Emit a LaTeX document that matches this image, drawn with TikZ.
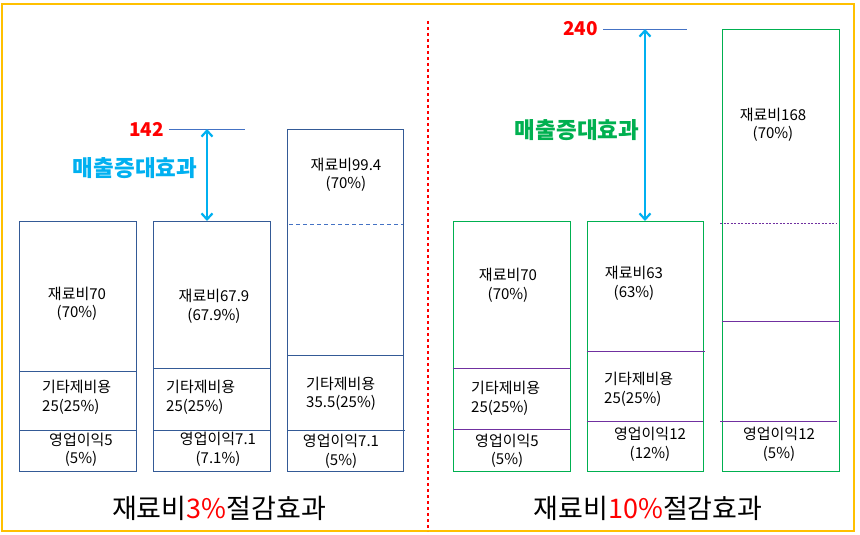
\documentclass[tikz,border=0pt]{standalone}
\usepackage{fontspec}
\setmainfont{Noto Sans CJK KR}
\usetikzlibrary{arrows.meta}
\definecolor{ybord}{HTML}{FFC000}
\definecolor{bblue}{RGB}{52,90,150}
\definecolor{lblue}{RGB}{68,114,196}
\definecolor{cyanA}{HTML}{00B0F0}
\definecolor{greenA}{HTML}{00B050}
\definecolor{purpA}{HTML}{7030A0}
\tikzset{
  boxL/.style={draw=bblue, line width=0.8pt, inner sep=0pt, anchor=north west},
  boxR/.style={draw=greenA, line width=0.8pt, inner sep=0pt, anchor=north west},
  divL/.style={draw=bblue, line width=0.8pt},
  divR/.style={draw=purpA, line width=0.8pt},
  lbl/.style={inner sep=0pt, font=\fontsize{15}{18.5}\selectfont, text=black},
  lblc/.style={lbl, align=center},
  lbll/.style={lbl, align=left, anchor=west},
  arr/.style={draw=cyanA, line width=2.2pt, {Straight Barb[length=6pt,width=11pt]}-{Straight Barb[length=6pt,width=11pt]}},
  numtxt/.style={inner sep=0pt, text=red, font=\fontsize{19}{22}\selectfont\bfseries, anchor=east},
  efftxt/.style={inner sep=0pt, font=\fontsize{22.5}{26}\selectfont\bfseries},
  ttl/.style={inner sep=0pt, font=\fontsize{27}{32}\selectfont},
  refline/.style={draw=lblue, line width=0.8pt}
}
\begin{document}
\begin{tikzpicture}[x=1pt,y=-1pt]
\useasboundingbox (0,0) rectangle (860,535);
% outer frame
\draw[ybord, line width=1.6pt] (2,4) rectangle (854,531);
% separator
\coordinate (sepT) at (428,21);
\coordinate (sepB) at (428,531);
\draw[red, line width=2.5pt, dash pattern=on 3pt off 3pt] (sepT) -- (sepB);

% ---------- left panel ----------
\node[boxL, minimum width=117pt, minimum height=250pt] (b1) at (19,221) {};
\node[boxL, minimum width=117pt, minimum height=250pt] (b2) at (153,221) {};
\node[boxL, minimum width=116pt, minimum height=342pt] (b3) at (287,129) {};
\draw[divL] (19,371) -- (136,371);
\draw[divL] (19,430) -- (136,430);
\draw[divL] (153,368) -- (270,368);
\draw[divL] (153,430) -- (270,430);
\draw[draw=lblue, line width=0.8pt, dash pattern=on 4pt off 3pt] (289,224) -- (403,224);
\draw[divL] (287,355) -- (403,355);
\draw[divL] (288,430) -- (405,430);

\node[lblc] (b1m) at (77,304) {재료비70\\(70\%)};
\node[lbll] (b1e) at (42,397.5) {기타제비용\\25(25\%)};
\node[lblc] (b1o) at (81,450) {영업이익5\\ (5\%)};
\node[lblc] (b2m) at (214,306.5) {재료비67.9\\(67.9\%)};
\node[lbll] (b2e) at (166,397.5) {기타제비용\\25(25\%)};
\node[lblc] (b2o) at (218,449.5) {영업이익7.1\\ (7.1\%)};
\node[lblc] (b3m) at (346,175) {재료비99.4\\(70\%)};
\node[lbll] (b3e) at (306,394) {기타제비용\\35.5(25\%)};
\node[lblc] (b3o) at (341,451.5) {영업이익7.1\\(5\%)};

\coordinate (l1a) at (169,129);
\coordinate (l1b) at (245,129);
\draw[refline] (l1a) -- (l1b);
\node[numtxt] (n142) at (164,129) {142};
\coordinate (a1t) at (207,129);
\draw[arr] (a1t) -- (a1t |- b2.north);
\node[efftxt, text=cyanA] (eff1) at (135,168) {매출증대효과};

\node[ttl] (t1) at (219,508) {재료비\textcolor{red}{3\%}절감효과};

% ---------- right panel ----------
\node[boxR, minimum width=117pt, minimum height=250pt] (b4) at (453,221) {};
\node[boxR, minimum width=116pt, minimum height=250pt] (b5) at (587,221) {};
\node[boxR, minimum width=117pt, minimum height=442pt] (b6) at (722,29) {};
\draw[divR] (453,368) -- (570,368);
\draw[divR] (453,429) -- (570,429);
\draw[divR] (587,351) -- (705,351);
\draw[divR] (587,421) -- (703,421);
\draw[draw=purpA, line width=0.8pt, dash pattern=on 2pt off 1.5pt] (720,223) -- (837,223);
\draw[divR] (722,321) -- (839,321);
\draw[divR] (720,421) -- (837,421);

\node[lblc] (b4m) at (508,285.5) {재료비70\\(70\%)};
\node[lbll] (b4e) at (471,398.5) {기타제비용\\25(25\%)};
\node[lblc] (b4o) at (507,451) {영업이익5\\ (5\%)};
\node[lblc] (b5m) at (634,283.5) {재료비63\\(63\%)};
\node[lbll] (b5e) at (604,389.5) {기타제비용\\25(25\%)};
\node[lblc] (b5o) at (650,444.5) {영업이익12\\ (12\%)};
\node[lblc] (b6m) at (773,125) {재료비168\\(70\%)};
\node[lblc] (b6o) at (779,444.5) {영업이익12\\(5\%)};

\coordinate (l2a) at (603,29);
\coordinate (l2b) at (687,29);
\draw[refline] (l2a) -- (l2b);
\node[numtxt] (n240) at (598,29) {240};
\coordinate (a2t) at (645,29);
\draw[arr] (a2t) -- (a2t |- b5.north);
\node[efftxt, text=greenA] (eff2) at (577,130) {매출증대효과};

\node[ttl] (t2) at (648,508) {재료비\textcolor{red}{10\%}절감효과};
\end{tikzpicture}
\end{document}
